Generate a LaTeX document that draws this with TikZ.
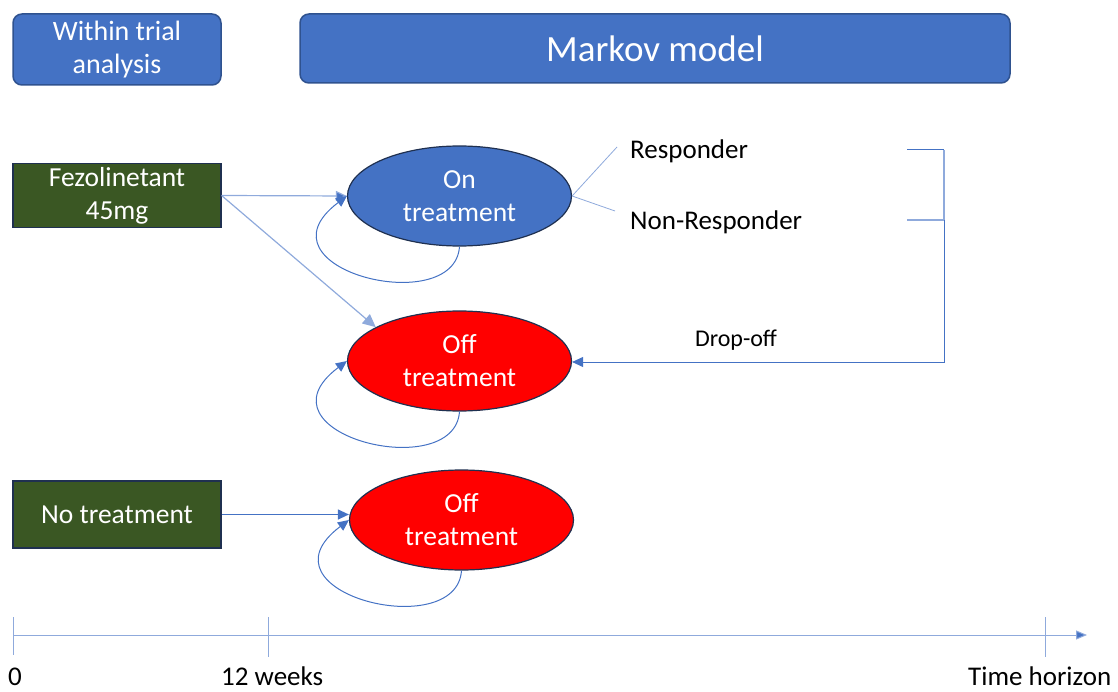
\documentclass[tikz,border=0pt]{standalone}
\usepackage{fontspec}
\setmainfont{Carlito}
\usetikzlibrary{arrows.meta,shapes.geometric}
\definecolor{boxblue}{HTML}{4472C4}
\definecolor{boxedge}{HTML}{2F528F}
\definecolor{darkedge}{HTML}{1F3050}
\definecolor{treegreen}{HTML}{3A5723}
\definecolor{lightline}{HTML}{8FAADC}
\definecolor{redfill}{HTML}{FF0000}
\begin{document}
\begin{tikzpicture}[x=1pt,y=-1pt,
  hdr/.style={draw=boxedge,line width=1.5pt,fill=boxblue,rounded corners=9pt,text=white,align=center,inner sep=0pt},
  armbox/.style={draw=darkedge,line width=1.2pt,fill=treegreen,text=white,align=center,inner sep=0pt,minimum width=208pt,minimum height=64pt,font=\fontsize{27.5}{33}\selectfont},
  statenode/.style={ellipse,draw=darkedge,line width=1.2pt,text=white,align=center,inner sep=0pt,minimum width=224pt,minimum height=100pt,font=\fontsize{27.5}{33}\selectfont},
  tip/.style={-{Triangle[length=11pt,width=10pt]}},
  conn/.style={draw=boxblue,line width=1pt},
  lconn/.style={draw=lightline,line width=1.2pt},
  lbl/.style={font=\fontsize{27}{32}\selectfont,inner sep=0pt},
  axlbl/.style={font=\fontsize{27}{30}\selectfont,inner sep=0pt}
]
\useasboundingbox (0,0) rectangle (1118,692);
% header boxes
\node[hdr,minimum width=208pt,minimum height=71pt,font=\fontsize{28}{33}\selectfont] (wt) at (117,49.5) {Within trial\\analysis};
\node[hdr,minimum width=710pt,minimum height=69pt,font=\fontsize{37}{40}\selectfont] (mm) at (655,48.5) {Markov model};
% arm boxes
\node[armbox] (fez) at (117,195.5) {Fezolinetant\\45mg};
\node[armbox,minimum height=67pt] (nt) at (117,514.5) {No treatment};
% states
\node[statenode,fill=boxblue] (on) at (459.5,196) {On\\treatment};
\node[statenode,fill=redfill] (off1) at (459.5,361) {Off\\treatment};
\node[statenode,fill=redfill] (off2) at (461.5,520) {Off\\treatment};
% arrows from arms
\draw[lconn,-{Triangle[length=11pt,width=10pt,fill=boxblue]}] (fez.east) -- (on.west);
\draw[lconn,-{Triangle[length=13pt,width=12pt]}] (fez.east) -- (off1.158);
\draw[conn,tip,line width=1.2pt] (nt.east) -- (nt.east -| off2.west);
% self loops
\draw[conn,tip] (on.south) .. controls +(-5,73) and +(-97,73) .. (on.west);
\draw[conn,tip] (off1.south) .. controls +(-5,73) and +(-97,73) .. (off1.west);
\draw[conn,tip] (off2.south) .. controls +(-5,73) and +(-97,73) .. (off2.west);
% responder branches
\coordinate (rb) at (617,147);
\coordinate (nb) at (615,211);
\draw[lconn,line width=0.8pt] (on.east) -- (rb);
\draw[lconn,line width=0.8pt] (on.east) -- (nb);
\node[lbl,anchor=west] (resp) at (630,151) {Responder};
\node[lbl,anchor=west] (nresp) at (630,222) {Non-Responder};
% bracket
\coordinate (r1) at (907,150);
\coordinate (r2) at (944,150);
\coordinate (n1) at (907,220);
\coordinate (n2) at (944,220);
\coordinate (b1) at (944,362);
\draw[conn] (r1) -- (r2);
\draw[lconn] (r2) -- (n2);
\draw[lconn] (n1) -- (n2);
\draw[conn,tip] (n2) -- (b1) -- (b1 -| off1.east);
\node[font=\fontsize{24}{28}\selectfont,inner sep=0pt] (drop) at (736,340) {Drop-off};
% timeline
\coordinate (ax0) at (13,635);
\coordinate (ax1) at (1087,635);
\draw[lconn,line width=1pt,-{Triangle[length=11pt,width=9pt,fill=boxblue]}] (ax0) -- (ax1);
\coordinate (t0a) at (13,617); \coordinate (t0b) at (13,655);
\coordinate (t1a) at (268,617); \coordinate (t1b) at (268,657);
\coordinate (t2a) at (1045,617); \coordinate (t2b) at (1045,657);
\draw[lconn,line width=1pt] (t0a) -- (t0b);
\draw[lconn,line width=1pt] (t1a) -- (t1b);
\draw[lconn,line width=1pt] (t2a) -- (t2b);
\node[axlbl,anchor=base west] (l0) at (8,685) {0};
\node[axlbl,anchor=base west] (l1) at (221,685) {12 weeks};
\node[axlbl,anchor=base west] (l2) at (968,685) {Time horizon};
\end{tikzpicture}
\end{document}
